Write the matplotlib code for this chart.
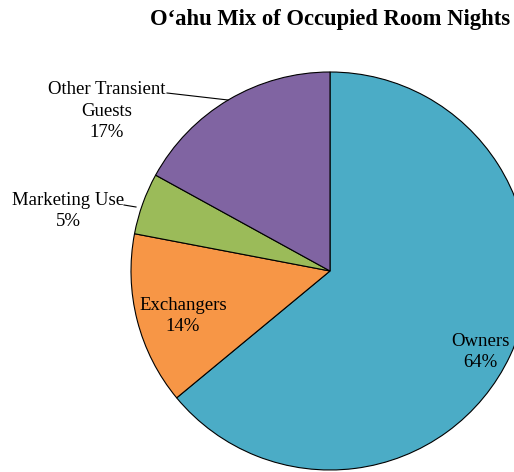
import matplotlib.pyplot as plt

labels = ['Owners', 'Exchangers', 'Marketing Use', 'Other Transient\nGuests']
shares = [64, 14, 5, 17]
colors = ['#4BACC6', '#F79646', '#9BBB59', '#8064A2']

plt.rcParams['font.family'] = ['Liberation Serif', 'DejaVu Serif']

fig = plt.figure(figsize=(5.14, 4.72), dpi=100)
ax = fig.add_axes([0, 0, 1, 1])

# pie laid out in pixel units, centre and radius
ax.pie(shares, colors=colors, startangle=90, counterclock=False,
       center=(330, 201), radius=199, frame=True,
       wedgeprops=dict(edgecolor='black', linewidth=0.8))
ax.set_xlim(0, 514)
ax.set_ylim(0, 472)
ax.set_aspect('equal')
ax.axis('off')

# label spots (pixel coords, y up)
spots = [(480, 120), (183, 156), (68, 261), (107, 361)]
for lab, v, (x, y) in zip(labels, shares, spots):
    ax.text(x, y, '%s\n%d%%' % (lab, v), ha='center', va='center',
            fontsize=13.5, linespacing=1.38)

# leader lines
ax.plot([124, 136], [267, 265], color='black', lw=0.8)
ax.plot([167, 228], [379, 372], color='black', lw=0.8)

ax.text(330, 452, 'O\u2018ahu Mix of Occupied Room Nights', ha='center', va='center',
        fontsize=16.3, fontweight='bold')

fig.savefig('out.png', dpi=100)
